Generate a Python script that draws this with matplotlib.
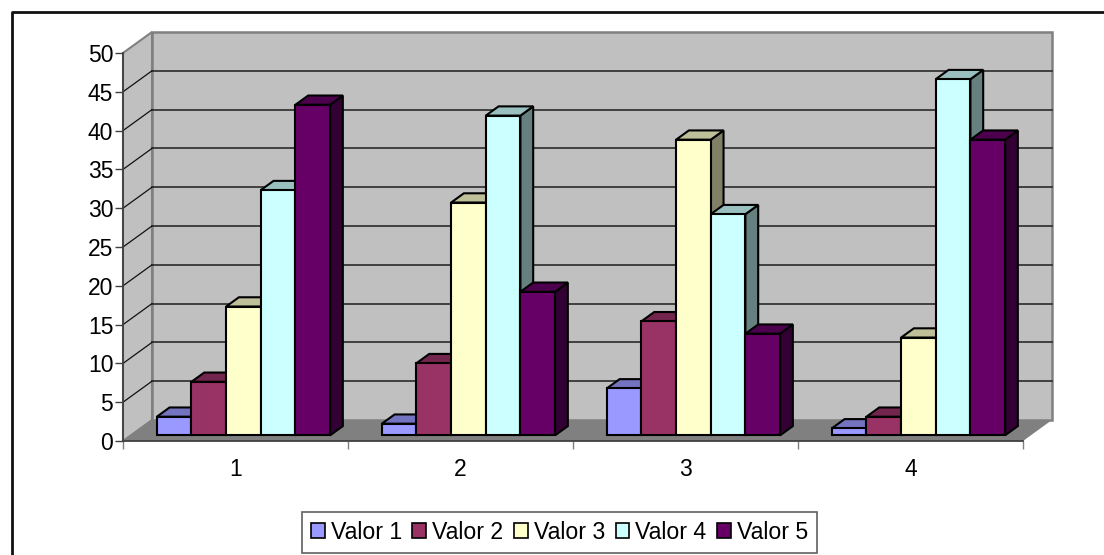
import matplotlib
matplotlib.use('Agg')
from matplotlib import pyplot as plt
from matplotlib.patches import Polygon, Patch
from matplotlib.lines import Line2D

categories = ['1', '2', '3', '4']
series_names = ['Valor 1', 'Valor 2', 'Valor 3', 'Valor 4', 'Valor 5']
valor1 = [2.4, 1.5, 6.05, 0.9]
valor2 = [6.9, 9.3, 14.7, 2.4]
valor3 = [16.6, 30.0, 38.1, 12.6]
valor4 = [31.6, 41.2, 28.5, 45.9]
valor5 = [42.6, 18.5, 13.1, 38.1]
y_ticks = [0, 5, 10, 15, 20, 25, 30, 35, 40, 45, 50]

series = [valor1, valor2, valor3, valor4, valor5]
colors = ['#9999FF', '#993366', '#FFFFCC', '#CCFFFF', '#660066']
tops = ['#7373BF', '#73264D', '#BFBF99', '#99BFBF', '#4D004D']
sides = ['#4D4D80', '#4D1A33', '#808066', '#668080', '#330033']

W, H = 1104, 555
plt.rcParams['font.family'] = ['Liberation Sans', 'DejaVu Sans']
plt.rcParams['font.size'] = 16.5
fig = plt.figure(figsize=(W / 100, H / 100), dpi=100)
# axes rectangle is the front of the 3D box, walls are drawn outside of it
ax = fig.add_axes([123 / W, 1 - 441 / H, 900 / W, 388 / H])
ax.set_xlim(0, 4)
ax.set_ylim(0, 50)
ax.patch.set_visible(False)

# depth of the box in data units
DX = 29 / 225
DY = 21 / 388 * 50


def pt(x, v, d=0.0):
    return (x + d * DX, v + d * DY)


def poly(points, fc, ec='none', lw=0, z=1):
    ax.add_patch(Polygon(points, closed=True, facecolor=fc, edgecolor=ec, linewidth=lw,
                         zorder=z, clip_on=False, joinstyle='miter'))


# walls and floor
poly([pt(0, 0, 1), pt(4, 0, 1), pt(4, 50, 1), pt(0, 50, 1)], '#C0C0C0', '#808080', 1.8)
poly([pt(0, 0), pt(0, 0, 1), pt(0, 50, 1), pt(0, 50)], '#C0C0C0', '#808080', 1.5)
poly([pt(0, 0), pt(4, 0), pt(4, 0, 1), pt(0, 0, 1)], '#808080')

# grid on back wall and side wall
for v in y_ticks[1:-1]:
    ax.plot([pt(0, v, 1)[0], pt(4, v, 1)[0]], [pt(0, v, 1)[1]] * 2, color='#2A2A2A', lw=1.2,
            zorder=2, clip_on=False)
    ax.plot([0, DX], [v, v + DY], color='#111111', lw=0.9, zorder=2, clip_on=False)

# bars
BAR_W = 0.154
BAR_START = 26 / 225
D0, D1 = 0.27, 0.71
BAR_EC = 'black'
for c in range(len(categories)):
    for s in range(len(series)):
        x0 = c + BAR_START + s * BAR_W
        x1 = x0 + BAR_W
        v = series[s][c]
        # front sits on the floor at depth D0, v is measured from there
        poly([pt(x1, 0, D0), pt(x1, 0, D1), pt(x1, v, D1), pt(x1, v, D0)], sides[s], BAR_EC, 1.5, 3)
        poly([pt(x0, v, D0), pt(x0, v, D1), pt(x1, v, D1), pt(x1, v, D0)], tops[s], BAR_EC, 1.5, 3)
        poly([pt(x0, 0, D0), pt(x1, 0, D0), pt(x1, v, D0), pt(x0, v, D0)], colors[s], BAR_EC, 1.5, 3)

# axes
for name in ['top', 'right']:
    ax.spines[name].set_visible(False)
ax.spines['left'].set_color('#404040')
ax.spines['bottom'].set_color('#404040')
ax.spines['left'].set_linewidth(1.3)
ax.spines['bottom'].set_linewidth(1.3)
ax.spines['left'].set_zorder(4)
ax.spines['bottom'].set_zorder(4)
ax.set_yticks(y_ticks)
ax.set_xticks(range(5))
ax.set_xticklabels([])
ax.set_xticks([i + 0.5 for i in range(4)], minor=True)
ax.set_xticklabels(categories, minor=True)
ax.tick_params(axis='y', length=6, width=1, color='#404040', pad=1, labelcolor='black')
ax.tick_params(axis='x', which='major', length=6, width=1, color='#808080')
ax.tick_params(axis='x', which='minor', length=0, pad=12)

# legend
handles = [Patch(facecolor=colors[i], edgecolor='black', linewidth=1.2, label=series_names[i])
           for i in range(len(series_names))]
leg = fig.legend(handles=handles, ncol=5, loc='center', bbox_to_anchor=(559.5 / W, 1 - 532.5 / H),
                 frameon=True, fancybox=False, edgecolor='#606060', framealpha=1,
                 handlelength=0.6, handleheight=0.6, handletextpad=0.26, columnspacing=0.45,
                 borderpad=0.37, borderaxespad=0, fontsize=16.7)
leg.get_frame().set_linewidth(1.2)

# chart border, only the top and left edges are inside the picture
fig.add_artist(Line2D([11.5 / W, 11.5 / W, 1], [0, 1 - 11.5 / H, 1 - 11.5 / H],
                      transform=fig.transFigure, color='#111111', linewidth=2.0))

plt.savefig('out.png', dpi=100)
